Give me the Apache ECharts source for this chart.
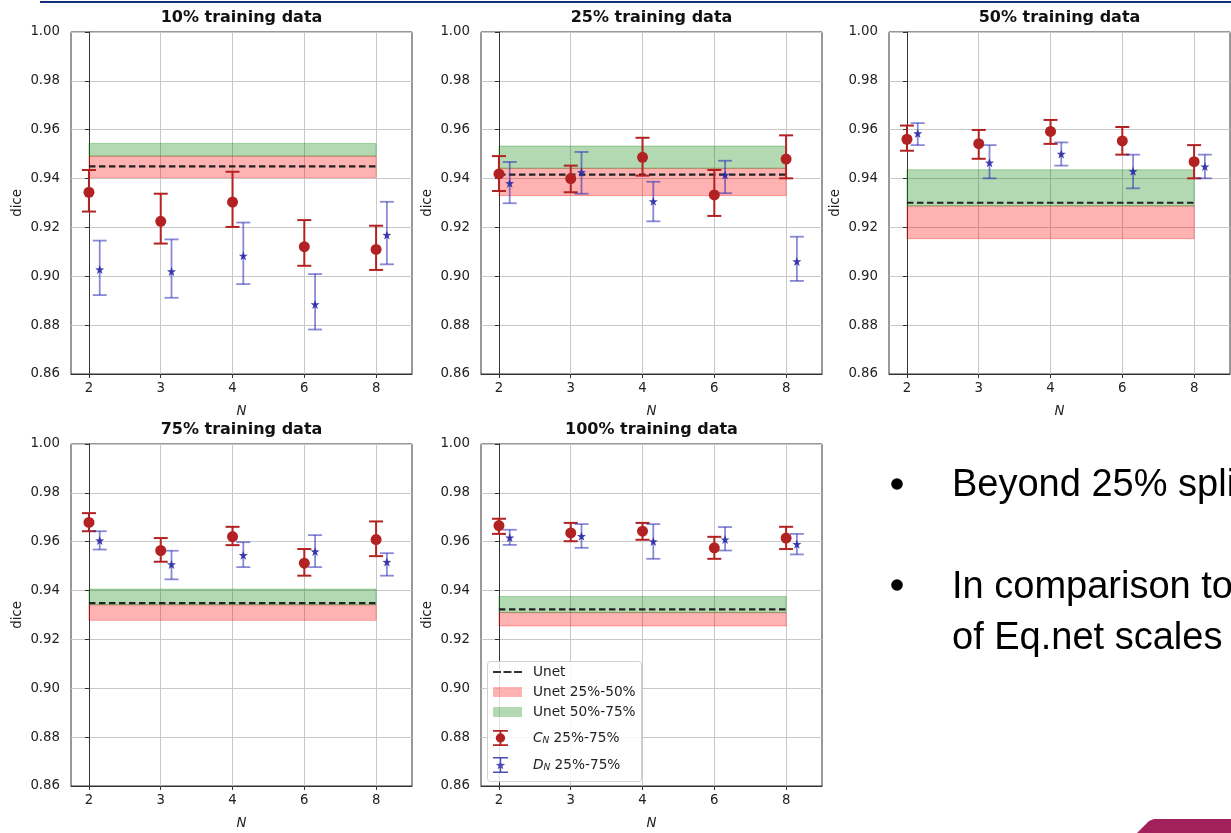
<!DOCTYPE html>
<html>
<head>
<meta charset="utf-8">
<script src="https://cdn.jsdelivr.net/npm/echarts@6/dist/echarts.min.js"></script>
<style>
  html, body { margin: 0; padding: 0; background: #fff; }
  #chart { width: 1231px; height: 833px; }
</style>
</head>
<body>
<div id="chart"></div>
<script>
const nLabels = ['2', '3', '4', '6', '8'];
const panelTitles = ['10% training data', '25% training data', '50% training data', '75% training data', '100% training data'];

// C_N median with 25%-75% range, one row per panel
const cMid = [
  [0.9344, 0.9225, 0.9304, 0.9121, 0.9110],
  [0.9419, 0.9400, 0.9487, 0.9333, 0.9480],
  [0.9561, 0.9543, 0.9593, 0.9554, 0.9469],
  [0.9679, 0.9564, 0.9621, 0.9512, 0.9609],
  [0.9666, 0.9636, 0.9643, 0.9575, 0.9615]
];
const cLow = [
  [0.9265, 0.9134, 0.9202, 0.9043, 0.9026],
  [0.9349, 0.9344, 0.9412, 0.9247, 0.9401],
  [0.9514, 0.9481, 0.9542, 0.9498, 0.9401],
  [0.9643, 0.9518, 0.9586, 0.9461, 0.9541],
  [0.9632, 0.9602, 0.9608, 0.9530, 0.9570]
];
const cHigh = [
  [0.9435, 0.9338, 0.9428, 0.9230, 0.9207],
  [0.9492, 0.9453, 0.9567, 0.9435, 0.9577],
  [0.9617, 0.9599, 0.9640, 0.9611, 0.9537],
  [0.9717, 0.9615, 0.9661, 0.9570, 0.9683],
  [0.9694, 0.9677, 0.9677, 0.9620, 0.9661]
];

// D_N median with 25%-75% range
const dMid = [
  [0.9028, 0.9020, 0.9084, 0.8885, 0.9169],
  [0.9381, 0.9426, 0.9307, 0.9415, 0.9061],
  [0.9585, 0.9465, 0.9501, 0.9430, 0.9449],
  [0.9605, 0.9507, 0.9545, 0.9560, 0.9517],
  [0.9617, 0.9623, 0.9601, 0.9609, 0.9590]
];
const dLow = [
  [0.8923, 0.8912, 0.8968, 0.8782, 0.9049],
  [0.9299, 0.9338, 0.9225, 0.9340, 0.8981],
  [0.9537, 0.9401, 0.9453, 0.9360, 0.9401],
  [0.9568, 0.9446, 0.9496, 0.9496, 0.9461],
  [0.9587, 0.9575, 0.9530, 0.9564, 0.9548]
];
const dHigh = [
  [0.9146, 0.9151, 0.9220, 0.9009, 0.9305],
  [0.9468, 0.9509, 0.9387, 0.9473, 0.9162],
  [0.9627, 0.9537, 0.9548, 0.9498, 0.9498],
  [0.9643, 0.9563, 0.9598, 0.9627, 0.9553],
  [0.9649, 0.9672, 0.9672, 0.9660, 0.9632]
];

// Unet reference per panel
const unetLine = [0.9450, 0.9416, 0.9301, 0.9349, 0.9323];
const unetQ25 = [0.9404, 0.9330, 0.9154, 0.9278, 0.9255];
const unetQ50 = [0.9492, 0.9442, 0.9288, 0.9342, 0.9310];
const unetQ75 = [0.9544, 0.9533, 0.9436, 0.9406, 0.9376];

const bulletLines = ['Beyond 25% split', 'In comparison to', 'of Eq.net scales'];

const panels = [
  { left: 71, top: 32 }, { left: 481, top: 32 }, { left: 889, top: 32 },
  { left: 71, top: 444 }, { left: 481, top: 444 }
];
const PW = 341, PH = 342;
const FONT = 'DejaVu Sans';
const D_SHIFT = 0.15;

const RED = '#b22222';
const BLUE_BAR = 'rgba(40,40,180,0.55)';
const BLUE_STAR = '#2b2ba6';
const STAR = 'path://M0,-10L2.35,-3.24L9.51,-3.09L3.8,1.24L5.88,8.09L0,4.2L-5.88,8.09L-3.8,1.24L-9.51,-3.09L-2.35,-3.24Z';

function bandRenderer(fill) {
  return function (params, api) {
    const p0 = api.coord([api.value(0), api.value(3)]);
    const p1 = api.coord([api.value(1), api.value(2)]);
    return {
      type: 'rect',
      shape: { x: p0[0], y: p0[1], width: p1[0] - p0[0], height: p1[1] - p0[1] },
      style: { fill: fill, stroke: fill, lineWidth: 1 }
    };
  };
}

function errorBarRenderer(color, width) {
  return function (params, api) {
    const x = api.value(0);
    const lo = api.coord([x, api.value(1)]);
    const hi = api.coord([x, api.value(2)]);
    const cap = 7;
    const style = { stroke: color, lineWidth: width };
    return {
      type: 'group',
      children: [
        { type: 'line', shape: { x1: lo[0], y1: lo[1], x2: hi[0], y2: hi[1] }, style },
        { type: 'line', shape: { x1: lo[0] - cap, y1: lo[1], x2: lo[0] + cap, y2: lo[1] }, style },
        { type: 'line', shape: { x1: hi[0] - cap, y1: hi[1], x2: hi[0] + cap, y2: hi[1] }, style }
      ]
    };
  };
}

const grid = [], xAxis = [], yAxis = [], series = [], graphic = [];

panels.forEach((p, i) => {
  grid.push({
    left: p.left, top: p.top, width: PW, height: PH,
    outerBoundsMode: 'none',
    show: true, borderColor: '#333', borderWidth: 1, backgroundColor: '#fff'
  });
  xAxis.push({
    gridIndex: i, type: 'value', min: -0.25, max: 4.5,
    name: 'N', nameLocation: 'middle', nameGap: 31,
    nameTextStyle: { fontFamily: FONT, fontSize: 13.3, fontStyle: 'italic', color: '#222' },
    axisLine: { show: true, lineStyle: { color: '#333', width: 1 } },
    axisTick: { show: true, length: 4, lineStyle: { color: '#333' }, customValues: [0, 1, 2, 3, 4] },
    axisLabel: {
      fontFamily: FONT, fontSize: 13.3, color: '#222', margin: 8,
      customValues: [0, 1, 2, 3, 4],
      formatter: (v) => nLabels[Math.round(v)]
    },
    splitLine: { show: true, lineStyle: { color: '#c8c8c8', width: 1 } }
  });
  yAxis.push({
    gridIndex: i, type: 'value', min: 0.86, max: 1.0, interval: 0.02,
    name: 'dice', nameLocation: 'middle', nameGap: 47,
    nameTextStyle: { fontFamily: FONT, fontSize: 13.3, color: '#222' },
    axisLine: { show: true, lineStyle: { color: '#333', width: 1 } },
    axisTick: { show: true, length: 4, lineStyle: { color: '#333' } },
    axisLabel: { fontFamily: FONT, fontSize: 13.3, color: '#222', margin: 11, formatter: (v) => v.toFixed(2) },
    splitLine: { show: true, lineStyle: { color: '#c8c8c8', width: 1 } }
  });

  const ax = { xAxisIndex: i, yAxisIndex: i };
  series.push({
    ...ax, type: 'custom', name: 'Unet 25%-50%', z: 1, silent: true,
    renderItem: bandRenderer('rgba(255,0,0,0.3)'),
    encode: { x: [0, 1], y: [2, 3] },
    data: [[0, 4, unetQ25[i], unetQ50[i]]]
  });
  series.push({
    ...ax, type: 'custom', name: 'Unet 50%-75%', z: 1, silent: true,
    renderItem: bandRenderer('rgba(0,128,0,0.3)'),
    encode: { x: [0, 1], y: [2, 3] },
    data: [[0, 4, unetQ50[i], unetQ75[i]]]
  });
  series.push({
    ...ax, type: 'line', name: 'Unet', z: 3, silent: true,
    symbol: 'none',
    lineStyle: { color: '#222', width: 2.2, type: [6.5, 3.5] },
    data: [[0, unetLine[i]], [4, unetLine[i]]]
  });
  series.push({
    ...ax, type: 'custom', name: 'C_N 25%-75%', z: 4, silent: true,
    renderItem: errorBarRenderer(RED, 2),
    encode: { x: 0, y: [1, 2] },
    data: nLabels.map((_, j) => [j, cLow[i][j], cHigh[i][j]])
  });
  series.push({
    ...ax, type: 'scatter', name: 'C_N 25%-75%', z: 5, silent: true,
    symbol: 'circle', symbolSize: 11,
    itemStyle: { color: RED, opacity: 1 },
    data: nLabels.map((_, j) => [j, cMid[i][j]])
  });
  series.push({
    ...ax, type: 'custom', name: 'D_N 25%-75%', z: 4, silent: true,
    renderItem: errorBarRenderer(BLUE_BAR, 1.8),
    encode: { x: 0, y: [1, 2] },
    data: nLabels.map((_, j) => [j + D_SHIFT, dLow[i][j], dHigh[i][j]])
  });
  series.push({
    ...ax, type: 'scatter', name: 'D_N 25%-75%', z: 5, silent: true,
    symbol: STAR, symbolSize: 9,
    itemStyle: { color: BLUE_STAR, opacity: 0.9 },
    data: nLabels.map((_, j) => [j + D_SHIFT, dMid[i][j]])
  });

  graphic.push({
    type: 'text', x: p.left + PW / 2, y: p.top - 14.5, silent: true,
    style: { text: panelTitles[i], align: 'center', verticalAlign: 'middle',
      font: 'bold 16px "DejaVu Sans"', fill: '#111' }
  });
});

// legend frame shared by the two legend blocks
graphic.push({
  type: 'rect', z: 50, silent: true,
  shape: { x: 487.5, y: 661.5, width: 154, height: 120, r: 3 },
  style: { fill: 'rgba(255,255,255,0.85)', stroke: '#d0d0d0', lineWidth: 1 }
});

// slide decorations and bullet text
graphic.push({ type: 'rect', shape: { x: 40, y: 1, width: 1191, height: 2 }, style: { fill: '#13307a' }, silent: true });
graphic.push({
  type: 'polygon', silent: true,
  shape: { points: [[1137, 833], [1149, 821], [1154, 819], [1231, 819], [1231, 833]] },
  style: { fill: '#a3215a' }
});
[484, 585].forEach((y) => {
  graphic.push({ type: 'circle', shape: { cx: 897, cy: y, r: 5.8 }, style: { fill: '#000' }, silent: true });
});
[486, 588, 639].forEach((y, k) => {
  graphic.push({
    type: 'text', x: 952, y: y, silent: true,
    style: { text: bulletLines[k], align: 'left', verticalAlign: 'middle', font: '38px "Liberation Sans"', fill: '#000' }
  });
});

const errIconC = 'path://M6,0H20V1.6H6Z M12.2,0H13.8V15H12.2Z M6,13.4H20V15H6Z M8.6,7.5A4.4,4.4 0 1 1 17.4,7.5A4.4,4.4 0 1 1 8.6,7.5Z';
const errIconD = 'path://M6,0H20V1.4H6Z M12.3,0H13.7V15H12.3Z M6,13.6H20V15H6Z M13,3.3L14.1,6.4L17.4,6.5L14.8,8.4L15.7,11.6L13,9.7L10.3,11.6L11.2,8.4L8.6,6.5L11.9,6.4Z';

const legendText = {
  fontFamily: FONT, fontSize: 13.7, color: '#222', padding: [0, 0, 0, 6],
  rich: {
    it: { fontFamily: FONT, fontSize: 13.7, fontStyle: 'italic', color: '#222', padding: [0, 0, 0, 7] },
    sub: { fontFamily: FONT, fontSize: 9, fontStyle: 'italic', color: '#222', padding: [6, 0, 0, 0] },
    n: { fontFamily: FONT, fontSize: 13.7, color: '#222' }
  }
};
const legendBase = {
  orient: 'vertical', left: 493, itemWidth: 29, padding: 0, z: 60,
  selectedMode: false, textStyle: legendText
};

const chart = echarts.init(document.getElementById('chart'), null, { renderer: 'canvas' });
chart.setOption({
  animation: false,
  backgroundColor: '#fff',
  grid, xAxis, yAxis, series, graphic,
  legend: [
    Object.assign({}, legendBase, {
      top: 665, itemHeight: 16, itemGap: 6,
      data: [
        { name: 'Unet', icon: 'path://M0,0H8V2.2H0Z M10.5,0H18.5V2.2H10.5Z M21,0H29V2.2H21Z', itemStyle: { color: '#333', borderWidth: 0 } },
        { name: 'Unet 25%-50%', icon: 'path://M0,0H29V10H0Z', itemStyle: { color: 'rgba(255,0,0,0.3)', borderWidth: 0 } },
        { name: 'Unet 50%-75%', icon: 'path://M0,0H29V10H0Z', itemStyle: { color: 'rgba(0,128,0,0.3)', borderWidth: 0 } }
      ]
    }),
    Object.assign({}, legendBase, {
      top: 730, itemHeight: 16, itemGap: 11,
      formatter: (name) => (name === 'C_N 25%-75%' ? '{it|C}{sub|N}{n| 25%-75%}' : '{it|D}{sub|N}{n| 25%-75%}'),
      data: [
        { name: 'C_N 25%-75%', icon: errIconC, itemStyle: { color: RED, borderWidth: 0 } },
        { name: 'D_N 25%-75%', icon: errIconD, itemStyle: { color: '#4b4bb8', borderWidth: 0 } }
      ]
    })
  ]
});
</script>
</body>
</html>
